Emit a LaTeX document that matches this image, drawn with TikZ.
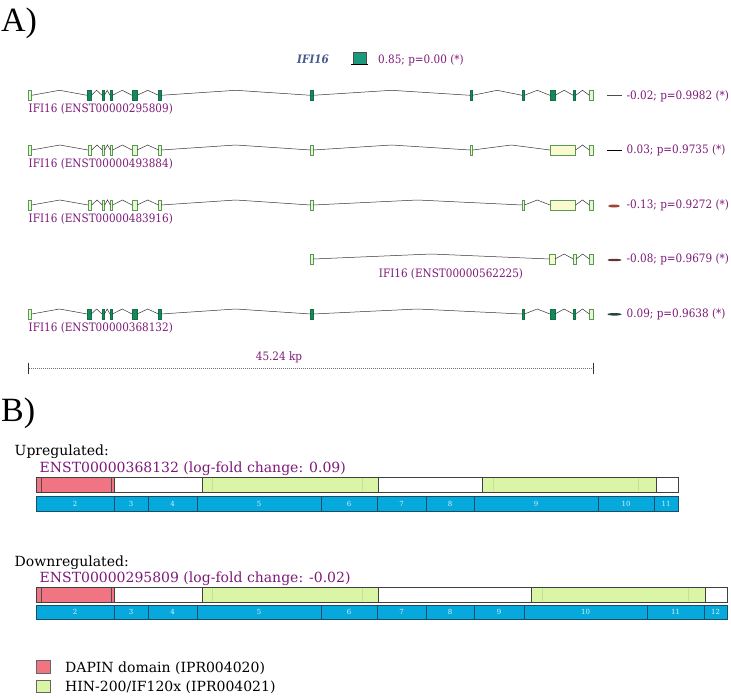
\documentclass[tikz,border=0pt]{standalone}
\usepackage{fontspec}
\setmainfont{DejaVu Serif}
\newfontfamily\cond[FakeStretch=0.9]{DejaVu Serif}
\newfontfamily\libs{Liberation Serif}
\usetikzlibrary{calc}
\definecolor{purp}{RGB}{125,25,120}
\definecolor{hdr}{RGB}{70,90,140}
\definecolor{exgr}{RGB}{20,138,92}
\definecolor{exdk}{RGB}{20,110,70}
\definecolor{exol}{RGB}{232,246,216}
\definecolor{exog}{RGB}{90,154,80}
\definecolor{exyl}{RGB}{250,250,208}
\definecolor{hbox}{RGB}{26,154,122}
\definecolor{pinkc}{RGB}{240,116,130}
\definecolor{dgreen}{RGB}{217,245,165}
\definecolor{dline}{RGB}{196,227,144}
\definecolor{bblue}{RGB}{6,169,220}
\definecolor{bbord}{RGB}{29,76,102}
\definecolor{blab}{RGB}{216,242,251}
\newcommand\exonbox[5]{\pgfmathsetmacro\xw{#3-#2}\pgfmathsetmacro\xc{(#2+#3)/2}\node[#5, minimum width=\xw pt] (#1) at (\xc,#4) {};}
\newcommand\intronline[2]{\draw[intron] (#1.east) -- ($(#1.east)!0.5!(#2.west)+(0,-5)$) -- (#2.west);}
\begin{document}
\begin{tikzpicture}[x=1pt,y=-1pt,
  exbase/.style={rectangle, inner sep=0pt, outer sep=0pt, minimum height=10pt, line width=0.5pt},
  exf/.style={exbase, draw=exdk, fill=exgr},
  exo/.style={exbase, draw=exog, fill=exol},
  exy/.style={exbase, draw=exog, fill=exyl},
  intron/.style={draw=black!80, line width=0.5pt},
  lab/.style={text=purp, font=\cond\fontsize{11.6}{12}\selectfont, inner sep=0pt},
  btxt/.style={font=\fontsize{14}{16}\selectfont, inner sep=0pt},
  dbar/.style={draw=black!75, line width=0.6pt},
  ebar/.style={draw=bbord, fill=bblue, line width=0.6pt},
  elab/.style={text=blab, font=\fontsize{7}{7}\selectfont, inner sep=0pt},
  big/.style={font=\libs\fontsize{34}{36}\selectfont, inner sep=0pt}]
\useasboundingbox (0,0) rectangle (731,699);
% Panel labels
\node[big, anchor=base west] (pA) at (1,31) {A)};
\node[big, anchor=base west] (pB) at (1,421) {B)};
% Header
\node[font=\cond\bfseries\itshape\fontsize{11.6}{12}\selectfont, text=hdr, anchor=base west, inner sep=0pt] (gname) at (297,63.3) {IFI16};
\node[rectangle, draw=black!70, fill=hbox, minimum width=13pt, minimum height=12pt, inner sep=0pt] (gbox) at (359.5,58.5) {};
\draw[black, line width=0.7pt] ([xshift=-2pt]gbox.south west) -- ([xshift=2pt]gbox.south east);
\node[lab, anchor=base west] (gval) at (378,63.3) {0.85; p=0.00 (*)};
% Row 1
\foreach \n/\a/\b/\s in {1/28.5/31.7/exo,2/87.3/91.3/exf,3/102/104.4/exf,4/110/112.4/exf,5/132/137/exf,6/158.5/160.9/exf,7/310.7/313.1/exf,8/470/472.4/exf,9/522/524.4/exf,10/550/555/exf,11/573.3/575.7/exf,12/589.3/593.3/exo}
  {\exonbox{ra\n}{\a}{\b}{95.3}{\s}}
\foreach \i in {1,...,11}{\pgfmathtruncatemacro\j{\i+1}\intronline{ra\i}{ra\j}}
\node[lab, anchor=base west] (la) at (28.5,112.6) {IFI16 (ENST00000295809)};
% Row 2
\foreach \n/\a/\b/\s in {1/28.5/31.7/exo,2/88/91.7/exo,3/102.3/104.7/exo,4/110.3/112.7/exo,5/132/137/exo,6/158.5/161/exo,7/310.5/313/exo,8/470/472.7/exo,9/550/575.7/exy,10/589.3/593.3/exo}
  {\exonbox{rb\n}{\a}{\b}{150}{\s}}
\foreach \i in {1,...,9}{\pgfmathtruncatemacro\j{\i+1}\intronline{rb\i}{rb\j}}
\node[lab, anchor=base west] (lb) at (28.5,167.3) {IFI16 (ENST00000493884)};
% Row 3
\foreach \n/\a/\b/\s in {1/28.5/31.7/exo,2/88/91.7/exo,3/102.3/104.7/exo,4/110.3/112.7/exo,5/132/137/exo,6/158.5/161/exo,7/310.5/313/exo,8/522/524.5/exo,9/550/575.7/exy,10/589.3/593.3/exo}
  {\exonbox{rc\n}{\a}{\b}{205}{\s}}
\foreach \i in {1,...,9}{\pgfmathtruncatemacro\j{\i+1}\intronline{rc\i}{rc\j}}
\node[lab, anchor=base west] (lc) at (28.5,222.3) {IFI16 (ENST00000483916)};
% Row 4
\foreach \n/\a/\b/\s in {1/310.5/313.3/exo,2/549.3/555/exy,3/573.3/576/exo,4/589.3/593.3/exo}
  {\exonbox{rd\n}{\a}{\b}{259}{\s}}
\foreach \i in {1,...,3}{\pgfmathtruncatemacro\j{\i+1}\intronline{rd\i}{rd\j}}
\node[lab, anchor=base] (ld) at (451,277.3) {IFI16 (ENST00000562225)};
% Row 5
\foreach \n/\a/\b/\s in {1/28.5/31.7/exo,2/87.3/91.3/exf,3/102/104.4/exf,4/110/112.4/exf,5/132/137/exf,6/158.5/160.9/exf,7/310.7/313.1/exf,8/522/524.4/exf,9/550/555/exf,10/573.3/575.7/exf,11/589.3/593.3/exo}
  {\exonbox{re\n}{\a}{\b}{314}{\s}}
\foreach \i in {1,...,10}{\pgfmathtruncatemacro\j{\i+1}\intronline{re\i}{re\j}}
\node[lab, anchor=base west] (le) at (28.5,331.3) {IFI16 (ENST00000368132)};
% Right markers and values
\draw[black!70, line width=0.5pt] (607,95.5) -- (622,95.5);
\node[lab, anchor=base west] (va) at (626.5,99) {-0.02; p=0.9982 (*)};
\draw[black, line width=1.3pt] (607,150.5) -- (622,150.5);
\node[lab, anchor=base west] (vb) at (626.5,153.7) {0.03; p=0.9735 (*)};
\fill[fill={rgb,255:red,160;green,70;blue,50}] (614,206) ellipse (6pt and 1.5pt);
\node[lab, anchor=base west] (vc) at (626.5,208.7) {-0.13; p=0.9272 (*)};
\fill[fill={rgb,255:red,95;green,55;blue,45}] (614.5,260) ellipse (7pt and 1.2pt);
\node[lab, anchor=base west] (vd) at (626.5,262.7) {-0.08; p=0.9679 (*)};
\fill[fill={rgb,255:red,40;green,70;blue,55}] (614.5,314.3) ellipse (7pt and 1.3pt);
\node[lab, anchor=base west] (ve) at (626.5,317.7) {0.09; p=0.9638 (*)};
% Scale bar
\coordinate (sL) at (28.5,368);
\coordinate (sR) at (593.3,368);
\draw[black!55, line width=0.6pt, dash pattern=on 1.2pt off 0.8pt] (sL) -- (sR);
\draw[black!80, line width=0.7pt] ([yshift=5.5pt]sL) -- ([yshift=-5.5pt]sL);
\draw[black!80, line width=0.7pt] ([yshift=5.5pt]sR) -- ([yshift=-5.5pt]sR);
\node[lab, anchor=base] (sc) at (279,360.5) {45.24 kp};
% Panel B: upregulated
\node[btxt, anchor=base west] (up) at (14.5,455.5) {Upregulated:};
\node[btxt, anchor=base west, text=purp] (upt) at (39.5,472) {ENST00000368132 (log-fold change: 0.09)};
\foreach \a/\b/\c in {36/114/pinkc,114/202/white,202/378/dgreen,378/482/white,482/656/dgreen,656/678/white}
  {\draw[dbar, fill=\c] (\a,477) rectangle (\b,492);}
\foreach \x in {212,362,493,638}{\draw[dline, line width=0.8pt] (\x,477.6) -- (\x,491.4);}
\foreach \x in {41.5,111}{\draw[black!70, line width=0.6pt] (\x,477) -- (\x,492);}
\foreach \a/\b/\t in {36/114/2,114/148/3,148/197/4,197/321/5,321/377/6,377/426/7,426/474/8,474/598/9,598/654/10,654/678/11}
  {\draw[ebar] (\a,496) rectangle (\b,511); \node[elab] at ({(\a+\b)/2},503.5) {\t};}
% Panel B: downregulated
\node[btxt, anchor=base west] (dn) at (14.5,566) {Downregulated:};
\node[btxt, anchor=base west, text=purp] (dnt) at (39.5,582.5) {ENST00000295809 (log-fold change: -0.02)};
\foreach \a/\b/\c in {36/114/pinkc,114/202/white,202/378/dgreen,378/531/white,531/705/dgreen,705/727/white}
  {\draw[dbar, fill=\c] (\a,587) rectangle (\b,602);}
\foreach \x in {212,362,542,688}{\draw[dline, line width=0.8pt] (\x,587.6) -- (\x,601.4);}
\foreach \x in {41.5,111}{\draw[black!70, line width=0.6pt] (\x,587) -- (\x,602);}
\foreach \a/\b/\t in {36/114/2,114/148/3,148/197/4,197/321/5,321/377/6,377/426/7,426/474/8,474/524/9,524/647/10,647/704/11,704/727/12}
  {\draw[ebar] (\a,605) rectangle (\b,619.5); \node[elab] at ({(\a+\b)/2},612.3) {\t};}
% Legend
\node[rectangle, draw=black!60, fill=pinkc, minimum width=14pt, minimum height=12.5pt, inner sep=0pt, line width=0.6pt] (kp) at (43.5,667) {};
\node[btxt, anchor=base west] (kpt) at (65,672.5) {DAPIN domain (IPR004020)};
\node[rectangle, draw=black!60, fill=dgreen, minimum width=14pt, minimum height=12.5pt, inner sep=0pt, line width=0.6pt] (kg) at (43.5,686.5) {};
\node[btxt, anchor=base west] (kgt) at (65,691.8) {HIN-200/IF120x (IPR004021)};
\end{tikzpicture}
\end{document}
